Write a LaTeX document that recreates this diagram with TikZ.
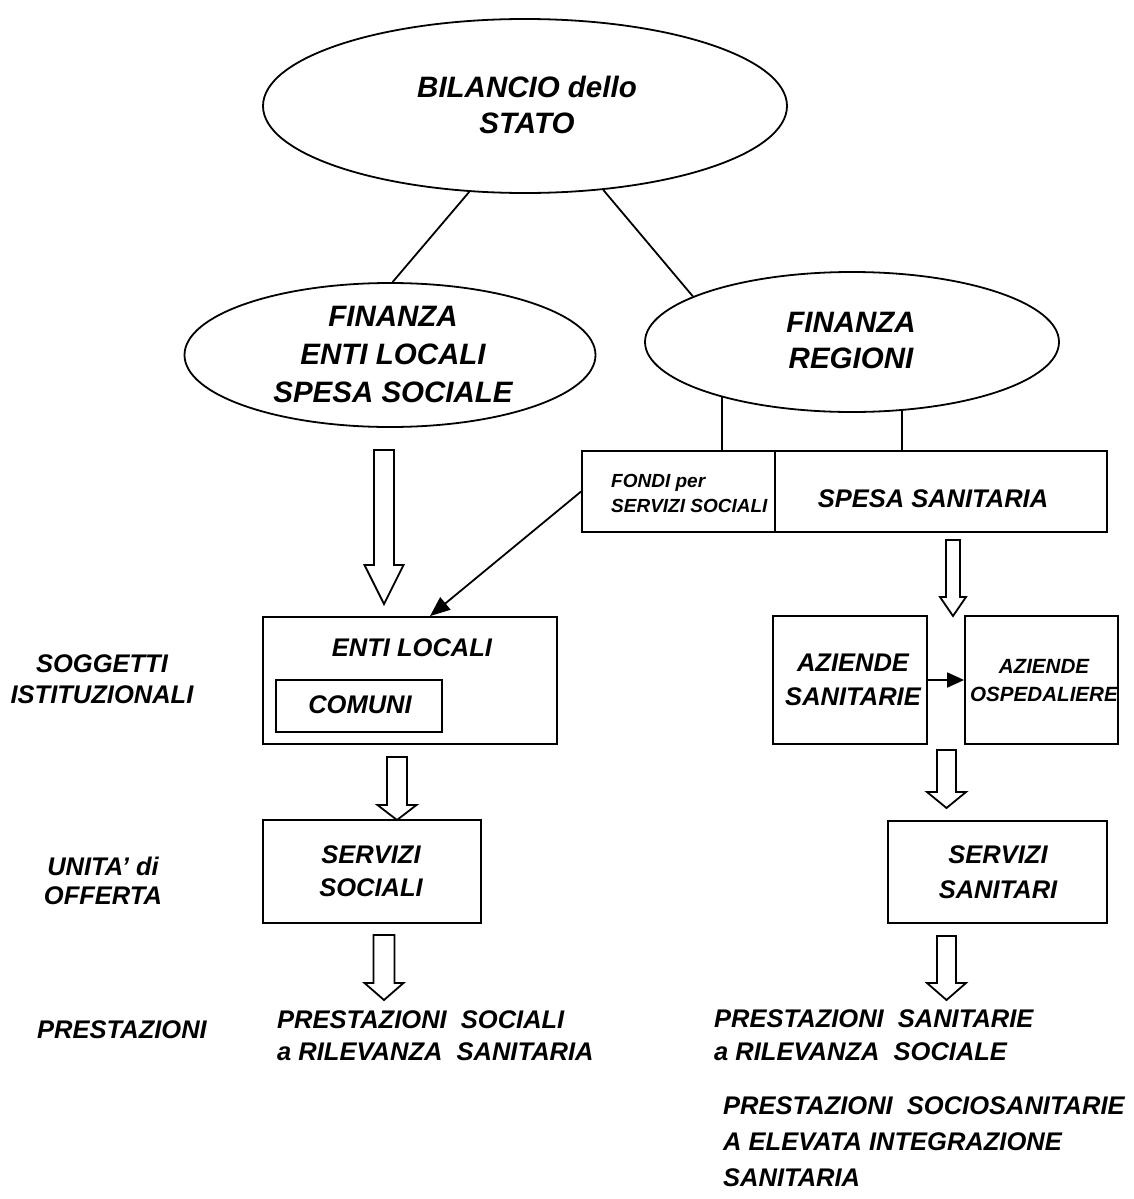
\documentclass[tikz,border=0pt]{standalone}
\usepackage{fontspec}
\setmainfont{Liberation Sans}
\usetikzlibrary{shapes.geometric,arrows.meta}
\newcommand\blockarr[6]{\draw[lw,fill=white,line join=miter] ({#1-#5},#2) -- ({#1+#5},#2) -- ({#1+#5},#3) -- ({#1+#6},#3) -- (#1,#4) -- ({#1-#6},#3) -- ({#1-#5},#3) -- cycle;}
\begin{document}
\begin{tikzpicture}[x=1pt,y=-1pt,
  lw/.style={line width=1.8pt},
  ell/.style={ellipse,draw,lw,inner sep=0pt},
  bx/.style={rectangle,draw,lw,inner sep=0pt},
  tx/.style={inner sep=0pt,align=center,font=\fontsize{25.5}{#1}\selectfont\bfseries\itshape},
  txl/.style={inner sep=0pt,align=left,font=\fontsize{25.5}{#1}\selectfont\bfseries\itshape},
  bigtx/.style={inner sep=0pt,align=center,font=\fontsize{29.5}{#1}\selectfont\bfseries\itshape},
  head/.style={-{Triangle[length=20pt,width=16pt]}}]
\fill[white] (0,0) rectangle (1133,1199);
\useasboundingbox (0,0) rectangle (1133,1199);

% ellipses
\node[ell,minimum width=524pt,minimum height=174pt] (bs) at (525,106) {};
\node[bigtx=36] (bst) at (527,105) {BILANCIO dello\\STATO};
\node[ell,minimum width=411pt,minimum height=144pt] (fel) at (390,355) {};
\node[bigtx=38] (felt) at (393,354) {FINANZA\\ENTI LOCALI\\SPESA SOCIALE};
\node[ell,minimum width=414pt,minimum height=140pt] (fr) at (852,342) {};
\node[bigtx=36] (frt) at (851,340) {FINANZA\\REGIONI};

% boxes
\node[bx,minimum width=193pt,minimum height=81pt] (fondi) at (678.5,491.5) {};
\node[inner sep=0pt,align=left,anchor=north west,font=\fontsize{19}{25}\selectfont\bfseries\itshape] (fonditx) at (611,474) {FONDI per\\SERVIZI SOCIALI};
\node[bx,minimum width=332pt,minimum height=81pt] (spesa) at (941,491.5) {};
\node[tx=33] (spesatx) at (933,499) {SPESA SANITARIA};

\node[bx,minimum width=294pt,minimum height=127pt] (el) at (410,680.5) {};
\node[tx=33] (eltx) at (412,648) {ENTI LOCALI};
\node[bx,minimum width=166pt,minimum height=52pt] (com) at (359,706) {};
\node[tx=33] (comtx) at (360,705) {COMUNI};

\node[bx,minimum width=154pt,minimum height=128pt] (as) at (850,680) {};
\node[tx=34] (astx) at (853,679.5) {AZIENDE\\SANITARIE};
\node[bx,minimum width=153pt,minimum height=128pt] (ao) at (1041.5,680) {};
\node[inner sep=0pt,align=center,font=\fontsize{20.6}{28}\selectfont\bfseries\itshape] (aotx) at (1044,681) {AZIENDE\\OSPEDALIERE};

\node[bx,minimum width=218pt,minimum height=103pt] (ss) at (372,871.5) {};
\node[tx=33] (sstx) at (371,871) {SERVIZI\\SOCIALI};
\node[bx,minimum width=219pt,minimum height=102pt] (ssan) at (997.5,872) {};
\node[tx=35] (ssantx) at (998,872.5) {SERVIZI\\SANITARI};

% left labels
\node[tx=31] (sog) at (102,679) {SOGGETTI\\ISTITUZIONALI};
\node[tx=29] (uni) at (103,881) {UNITA’ di\\OFFERTA};
\node[tx=33] (pre) at (122,1030) {PRESTAZIONI};

% bottom texts
\node[txl=32,anchor=west] (ps) at (277,1036) {PRESTAZIONI\ \ SOCIALI\\a RILEVANZA\ \ SANITARIA};
\node[txl=33,anchor=west] (psan) at (714,1035) {PRESTAZIONI\ \ SANITARIE\\a RILEVANZA\ \ SOCIALE};
\node[txl=36,anchor=west] (psoc) at (723,1142) {PRESTAZIONI\ \ SOCIOSANITARIE\\A ELEVATA INTEGRAZIONE\\SANITARIA};

% connectors
\draw[lw] (bs.237) -- (fel.88);
\draw[lw] (bs.313) -- (fr.164);
\draw[lw] (fr.203) -- (fr.203 |- fondi.north);
\draw[lw] (fr.306) -- (fr.306 |- spesa.north);
\draw[lw,head] (fondi.west) -- ([xshift=20pt]el.north);
\draw[lw,-{Triangle[length=17pt,width=15pt]}] (as.east) -- (ao.west);

% block arrows
\blockarr{384}{450}{565}{604}{10}{19.5}
\blockarr{397}{757}{805}{820}{10}{19.5}
\blockarr{384}{935}{983}{1000}{10.5}{19.5}
\blockarr{953}{540}{597}{616}{7}{13}
\blockarr{946.5}{750}{792}{808}{9.5}{19.5}
\blockarr{946.5}{936}{983}{1000}{9.5}{19.5}
\end{tikzpicture}
\end{document}
